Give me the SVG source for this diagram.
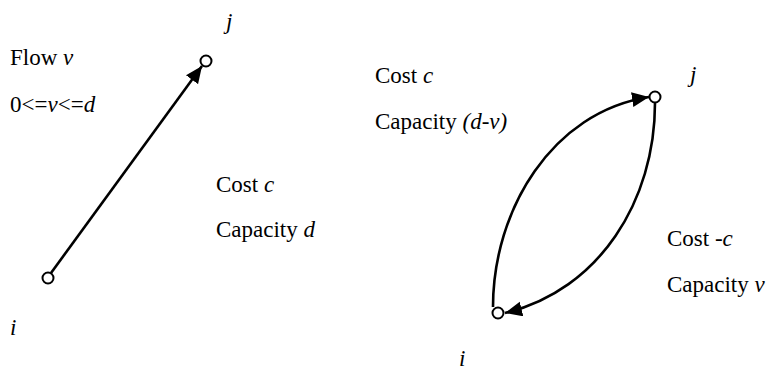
<svg xmlns="http://www.w3.org/2000/svg" width="769" height="372" viewBox="0 0 769 372" font-family="'Liberation Serif', 'DejaVu Serif', 'Noto Serif', 'Times New Roman', Times, serif">
<style>
text{font-family:"Liberation Serif","DejaVu Serif","Noto Serif","Times New Roman",Times,serif;font-size:23px;fill:#000}
.it{font-style:italic}
.edge{fill:none;stroke:#000;stroke-width:2.6}
.node{fill:#fff;stroke:#000;stroke-width:2}
</style>
<defs>
<marker id="ah" markerUnits="userSpaceOnUse" markerWidth="20" markerHeight="16" refX="17" refY="7.5" orient="auto">
<path d="M0,0 L17,7.5 L0,15 z" fill="#000"/>
</marker>
</defs>
<rect width="769" height="372" fill="#fff"/>
<g id="connectors">
<path class="edge" d="M51,273 L202,66" marker-end="url(#ah)"/>
<path class="edge" d="M493,307 C493,210 552,112 649,97" marker-end="url(#ah)"/>
<path class="edge" d="M655,103 C655,200 600,290 505,313" marker-end="url(#ah)"/>
</g>
<g id="node-left-j"><circle class="node" cx="206" cy="61" r="5.5"/><text class="it" x="226" y="29">j</text></g>
<g id="node-left-i"><circle class="node" cx="48" cy="278" r="5.5"/><text class="it" x="10" y="335">i</text></g>
<g id="node-right-j"><circle class="node" cx="655" cy="97" r="5.5"/><text class="it" x="690" y="82">j</text></g>
<g id="node-right-i"><circle class="node" cx="498" cy="313" r="5.5"/><text class="it" x="459" y="366">i</text></g>
<g id="labels">
<text x="10" y="65">Flow <tspan class="it">v</tspan></text>
<text x="10" y="112">0&lt;=<tspan class="it">v</tspan>&lt;=<tspan class="it">d</tspan></text>
<text x="216" y="192">Cost <tspan class="it">c</tspan></text>
<text x="216" y="237">Capacity <tspan class="it">d</tspan></text>
<text x="375" y="83">Cost <tspan class="it">c</tspan></text>
<text x="375" y="129">Capacity <tspan class="it">(d-v)</tspan></text>
<text x="667" y="246">Cost -<tspan class="it">c</tspan></text>
<text x="667" y="292">Capacity <tspan class="it">v</tspan></text>
</g>
</svg>
